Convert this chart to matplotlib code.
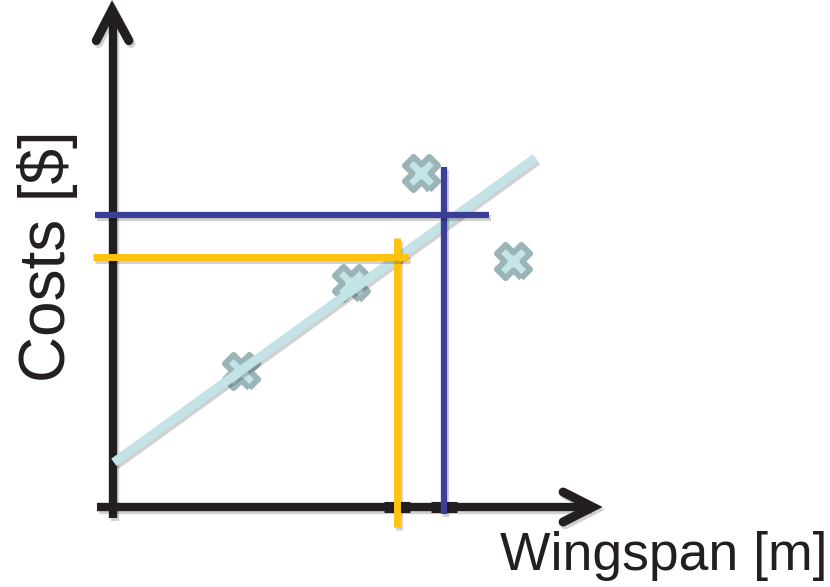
import math
import matplotlib
matplotlib.use("Agg")
from matplotlib import pyplot as plt, patheffects as pe

# training samples (wingspan, costs)
wingspan = [2.9, 5.4, 7.0, 9.1]
costs = [3.1, 5.1, 7.6, 5.6]

# fitted straight line
fit_span = [0.02, 9.6]
fit_intercept = 1.0
fit_slope = 0.722

# two queries
query_span = [6.45, 7.52]
query_cost = [5.68, 6.64]
query_colors = ['#ffc20e', '#3b3f98']
query_width = [5, 4.5]
vline_ends = [(-0.45, 6.11), (-0.16, 7.73)]
hline_ends = [(-0.45, 6.7), (-0.41, 8.55)]

ink = '#231f20'
shadow = [pe.SimpleLineShadow(offset=(1.5, -2), alpha=0.18), pe.Normal()]

# chunky diagonal cross for the samples
t = 0.36
plus = [(-t, -1), (t, -1), (t, -t), (1, -t), (1, t), (t, t), (t, 1), (-t, 1),
        (-t, t), (-1, t), (-1, -t), (-t, -t), (-t, -1)]
c45 = math.cos(math.pi / 4)
cross = [((x - y) * c45, (x + y) * c45) for x, y in plus]

fig = plt.figure(figsize=(8.3, 5.87), dpi=100)
ax = fig.add_axes([0, 0, 1, 1])
scale = 44.0
ax.set_xlim(-113 / scale, (830 - 113) / scale)
ax.set_ylim(-(587 - 507) / scale, 507 / scale)
ax.axis('off')

# axes with open arrow heads
ax.plot([0, 0], [-0.25, 11.2], color=ink, lw=6, solid_capstyle='butt', zorder=1, path_effects=shadow)
ax.plot([-0.36, 10.85], [0, 0], color=ink, lw=6, solid_capstyle='butt', zorder=1, path_effects=shadow)
ax.plot([-0.38, -0.02, 0.36], [10.6, 11.3, 10.6], color=ink, lw=6.5,
        solid_capstyle='round', solid_joinstyle='miter', zorder=1, path_effects=shadow)
ax.plot([10.23, 10.9, 10.23], [0.34, 0, -0.34], color=ink, lw=6.5,
        solid_capstyle='round', solid_joinstyle='miter', zorder=1, path_effects=shadow)

# samples and fitted line
ax.plot(wingspan, costs, linestyle='none', marker=cross, markersize=24,
        markerfacecolor='#c5e4e8', markeredgecolor='#9bb4b7', markeredgewidth=4.2, zorder=2)
fit_y = [fit_intercept + fit_slope * x for x in fit_span]
ax.plot(fit_span, fit_y, color='#c3e3e7', lw=6.5, solid_capstyle='butt', zorder=3, path_effects=shadow)

# reading a prediction: vertical from the x axis, horizontal to the y axis
for qx, qy, c, w, (v0, v1), (h0, h1) in zip(query_span, query_cost, query_colors,
                                             query_width, vline_ends, hline_ends):
    ax.plot([qx - 0.3, qx + 0.3], [0, 0], color=ink, lw=8, solid_capstyle='butt', zorder=1)
    ax.plot([qx, qx], [v0, v1], color=c, lw=w, solid_capstyle='butt', zorder=4, path_effects=shadow)
    ax.plot([h0, h1], [qy, qy], color=c, lw=w, solid_capstyle='butt', zorder=4, path_effects=shadow)

ax.text(-1.5, 5.7, 'Costs [$]', rotation=90, ha='center', va='center',
        fontsize=46, family='Liberation Sans', color=ink)
ax.text(16.25, -1.43, 'Wingspan [m]', ha='right', va='baseline',
        fontsize=38.5, family='Liberation Sans', color=ink)

fig.savefig('out.png', dpi=100, facecolor='white')
